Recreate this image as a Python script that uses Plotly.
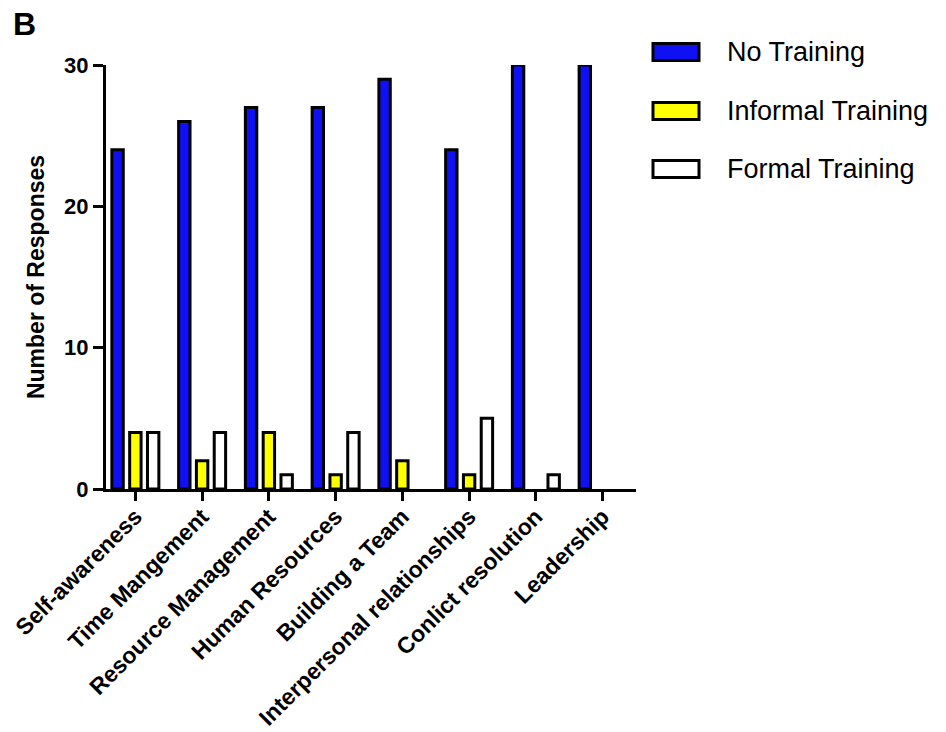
import plotly.graph_objects as go

# Training categories and response counts per training type
categories = [
    "Self-awareness",
    "Time Mangement",
    "Resource Management",
    "Human Resources",
    "Building a Team",
    "Interpersonal relationships",
    "Conlict resolution",
    "Leadership",
]
no_training = [24, 26, 27, 27, 29, 24, 30, 30]
informal_training = [4, 2, 4, 1, 2, 1, 0, 0]
formal_training = [4, 4, 1, 4, 0, 5, 1, 0]

series_names = ["No Training", "Informal Training", "Formal Training"]
series_values = [no_training, informal_training, formal_training]
series_colors = ["#1010F5", "#FFFF00", "#FFFFFF"]

y_ticks = [0, 10, 20, 30]

FONT = "Liberation Sans, Arial, Helvetica, sans-serif"

fig = go.Figure()
for name, vals, color in zip(series_names, series_values, series_colors):
    # empty bars get no outline so nothing is drawn on the baseline
    outline = [3 if v > 0 else 0 for v in vals]
    fig.add_trace(
        go.Bar(
            x=categories,
            y=vals,
            name=name,
            marker=dict(color=color, line=dict(color="black", width=outline)),
            showlegend=False,
            cliponaxis=True,
        )
    )

# Legend drawn as large swatches with text beside them
legend_rows_y = [52, 111, 169]  # pixel centres of each legend row
W, H = 946, 732
ML, MR, MT, MB = 106, 310, 65, 243
pw, ph = W - ML - MR, H - MT - MB


def px_x(px):
    return (px - ML) / pw


def px_y(py):
    return (H - MB - py) / ph


shapes = []
annotations = []
for name, color, cy in zip(series_names, series_colors, legend_rows_y):
    shapes.append(
        dict(
            type="rect",
            xref="paper",
            yref="paper",
            x0=px_x(653),
            x1=px_x(699),
            y0=px_y(cy - 8.5),
            y1=px_y(cy + 8.5),
            fillcolor=color,
            line=dict(color="black", width=3),
        )
    )
    annotations.append(
        dict(
            text=name,
            xref="paper",
            yref="paper",
            x=px_x(725),
            y=px_y(cy),
            xanchor="left",
            yanchor="middle",
            showarrow=False,
            font=dict(family=FONT, size=27, color="black"),
        )
    )

annotations.append(
    dict(
        text="<b>B</b>",
        xref="paper",
        yref="paper",
        x=px_x(11),
        y=px_y(24),
        xanchor="left",
        yanchor="middle",
        showarrow=False,
        font=dict(family=FONT, size=32, color="black"),
    )
)

fig.update_layout(
    width=W,
    height=H,
    margin=dict(l=ML, r=MR, t=MT, b=MB, pad=0),
    paper_bgcolor="white",
    plot_bgcolor="white",
    barmode="group",
    bargap=0.2,
    bargroupgap=0.36,
    font=dict(family=FONT, color="black"),
    shapes=shapes,
    annotations=annotations,
    showlegend=False,
)

fig.update_xaxes(
    range=[-0.44, 7.5],
    automargin=False,
    showline=True,
    linecolor="black",
    linewidth=3,
    ticks="outside",
    ticklen=9,
    tickwidth=3,
    tickcolor="black",
    tickangle=-45,
    ticklabelstandoff=-7,
    tickfont=dict(family=FONT, size=23, color="black", weight="bold"),
    showgrid=False,
    zeroline=False,
)

fig.update_yaxes(
    range=[0, 30],
    automargin=False,
    tickvals=y_ticks,
    showline=True,
    linecolor="black",
    linewidth=3,
    ticks="outside",
    ticklen=10,
    tickwidth=3,
    tickcolor="black",
    tickfont=dict(family=FONT, size=22, color="black", weight="bold"),
    title=dict(
        text="Number of Responses",
        font=dict(family=FONT, size=23, color="black", weight="bold"),
        standoff=14,
    ),
    showgrid=False,
    zeroline=False,
)

fig.write_html("out.html")
